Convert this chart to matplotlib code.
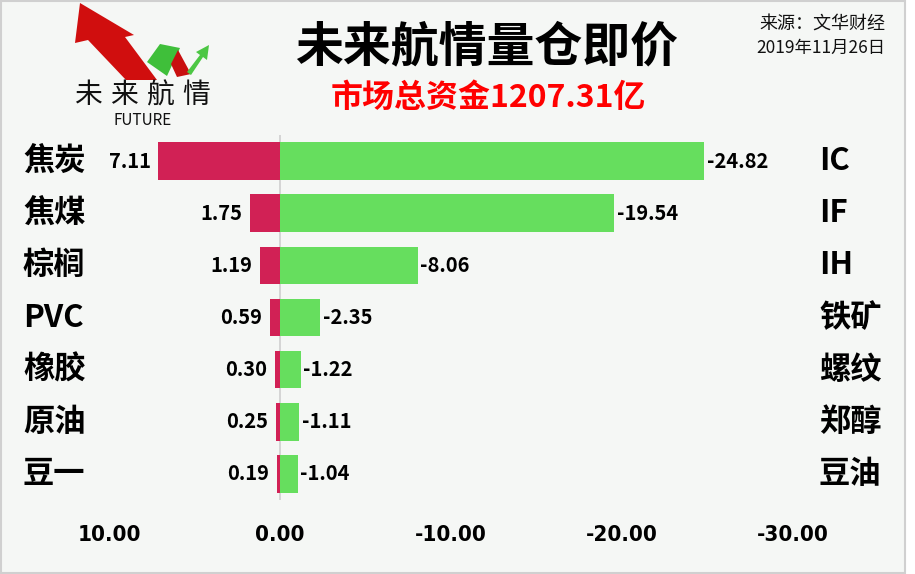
import matplotlib
matplotlib.use('Agg')
import matplotlib.pyplot as plt
from matplotlib.patches import Polygon
import numpy as np

plt.rcParams['font.family'] = ['Noto Sans CJK SC', 'DejaVu Sans']

left_names = ['焦炭', '焦煤', '棕榈', 'PVC', '橡胶', '原油', '豆一']
left_vals = [7.11, 1.75, 1.19, 0.59, 0.30, 0.25, 0.19]
right_names = ['IC', 'IF', 'IH', '铁矿', '螺纹', '郑醇', '豆油']
right_vals = [-24.82, -19.54, -8.06, -2.35, -1.22, -1.11, -1.04]
xticks = [10, 0, -10, -20, -30]

W, H = 915, 574
bg = '#f5f7f5'
red = '#d12155'
green = '#66de5e'

fig = plt.figure(figsize=(W / 100, H / 100), dpi=100, facecolor='white')

def px(x, y):
	return (x / W, 1 - y / H)

# panel with border
fig.patches.append(plt.Rectangle(px(1, 573), 904 / W, 572 / H, transform=fig.transFigure,
	facecolor=bg, edgecolor='#d0d0d0', lw=1.5, zorder=-10))

# logo
def poly(pts, color):
	fig.patches.append(Polygon([px(*p) for p in pts], closed=True, transform=fig.transFigure,
		facecolor=color, edgecolor='none'))

poly([(80, 3), (134, 35), (125, 37), (157, 80), (126, 80), (88, 40), (75, 43)], '#d00e0e')
poly([(147, 62), (160, 44), (180, 48), (167, 76)], '#3fbf3a')
poly([(171, 64), (178, 50), (191, 74), (177, 77)], '#c80f0f')
poly([(187, 72), (200, 55), (196, 52), (209, 45), (207, 60), (203, 57), (191, 75)], '#4cc744')
for k, ch in enumerate('未来航情'):
	fig.text(*px(88 + 36 * k, 95), ch, ha='center', va='center', fontsize=20, color='#111')
fig.text(*px(143, 120), 'FUTURE', ha='center', va='center', fontsize=11, color='#111')

# titles
fig.text(*px(487, 47), '未来航情量仓即价', ha='center', va='center', fontsize=34.5,
	fontweight='bold', color='black')
fig.text(*px(488, 98), '市场总资金1207.31亿', ha='center', va='center', fontsize=23,
	fontweight='bold', color='#ff0000')
fig.text(*px(885, 25), '来源：文华财经', ha='right', va='center', fontsize=13, color='#111')
fig.text(*px(885, 48), '2019年11月26日', ha='right', va='center', fontsize=12.5, color='#111')

# axes
x0, x1 = 109, 793
y0, y1 = 135, 500
ax = fig.add_axes([x0 / W, 1 - y1 / H, (x1 - x0) / W, (y1 - y0) / H])
ax.set_facecolor('none')
for s in ax.spines.values():
	s.set_visible(False)

idx = np.arange(len(left_vals))
ax.barh(idx, left_vals, height=0.72, color=red)
ax.barh(idx, right_vals, height=0.72, color=green)
ax.axvline(0, color='#cfcfcf', lw=1.2, zorder=0)
ax.set_xlim(10, -30)
ax.set_ylim(6.5, -0.5)
ax.set_yticks([])
ax.set_xticks(xticks)
ax.set_xticklabels(['%.2f' % v for v in xticks], fontsize=16, fontweight='bold',
	family='DejaVu Sans', fontstretch='condensed')
ax.tick_params(axis='x', length=0, pad=18)

for i in idx:
	ax.text(left_vals[i] + 0.45, i, '%.2f' % left_vals[i], ha='right', va='center',
		fontsize=14.5, fontweight='bold')
	ax.text(right_vals[i] - 0.15, i, '%.2f' % right_vals[i], ha='left', va='center',
		fontsize=14.5, fontweight='bold')
	fig.text(*px(23, 161 + i * 52.2), left_names[i], ha='left', va='center',
		fontsize=22.5, fontweight='bold')
	fig.text(*px(819, 161 + i * 52.2), right_names[i], ha='left', va='center',
		fontsize=22.5, fontweight='bold')

fig.savefig('out.png', dpi=100, facecolor='white')
